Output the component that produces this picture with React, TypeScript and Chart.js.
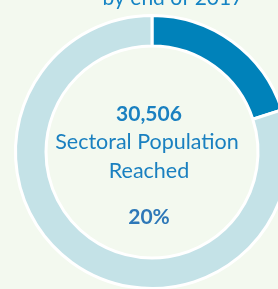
import { useEffect, useRef } from "react";
import { Chart, registerables } from "chart.js";

Chart.register(...registerables);

const categories = ["Reached", "Not yet reached"];
const values = [20, 80];
const colors = ["#0082BA", "#C4E2E7"];
const titleText = "by end of 2017";
const headline = "30,506";
const subLines = ["Sectoral Population", "Reached"];
const percentLabel = "20%";

const FONT = "Lato, 'Open Sans', sans-serif";

const centerTextPlugin = {
  id: "centerText",
  afterDraw(chart: any) {
    const ctx = chart.ctx;
    const arc = chart.getDatasetMeta(0).data[0];
    if (!arc) return;
    const cx = arc.x - 5;
    const cy = arc.y;
    ctx.save();
    ctx.textAlign = "center";
    ctx.textBaseline = "alphabetic";
    ctx.fillStyle = "#1584C4";
    ctx.font = `400 21px ${FONT}`;
    ctx.fillText(titleText, cx + 26, 5);
    ctx.fillStyle = "#1A80C0";
    ctx.font = `700 21px ${FONT}`;
    ctx.fillText(headline, cx + 2, cy - 31);
    ctx.font = `400 21.5px ${FONT}`;
    ctx.fillText(subLines[0], cx, cy - 3);
    ctx.fillText(subLines[1], cx + 2, cy + 26);
    ctx.fillStyle = "#2E78B8";
    ctx.font = `700 21px ${FONT}`;
    ctx.fillText(percentLabel, cx + 2, cy + 72);
    ctx.restore();
  },
};

export default function App() {
  const ref = useRef<HTMLCanvasElement | null>(null);
  useEffect(() => {
    document.body.style.margin = "0";
    const canvas = ref.current;
    if (!canvas) return;
    const chart = new Chart(canvas, {
      type: "doughnut",
      data: {
        labels: categories,
        datasets: [
          {
            data: values,
            backgroundColor: colors,
            borderColor: "#FFFFFF",
            borderWidth: 3,
            hoverOffset: 0,
          },
        ],
      },
      options: {
        responsive: false,
        animation: false,
        cutout: 106,
        layout: { padding: 14 },
        plugins: {
          legend: { display: false },
          tooltip: { enabled: false },
          title: { display: false },
        },
      },
      plugins: [centerTextPlugin],
    });
    return () => chart.destroy();
  }, []);
  return (
    <div
      style={{
        position: "fixed",
        left: 0,
        top: 0,
        width: 278,
        height: 289,
        overflow: "hidden",
        background: "#F3F9EF",
      }}
    >
      <canvas ref={ref} width={304} height={304} style={{ display: "block" }} />
    </div>
  );
}
